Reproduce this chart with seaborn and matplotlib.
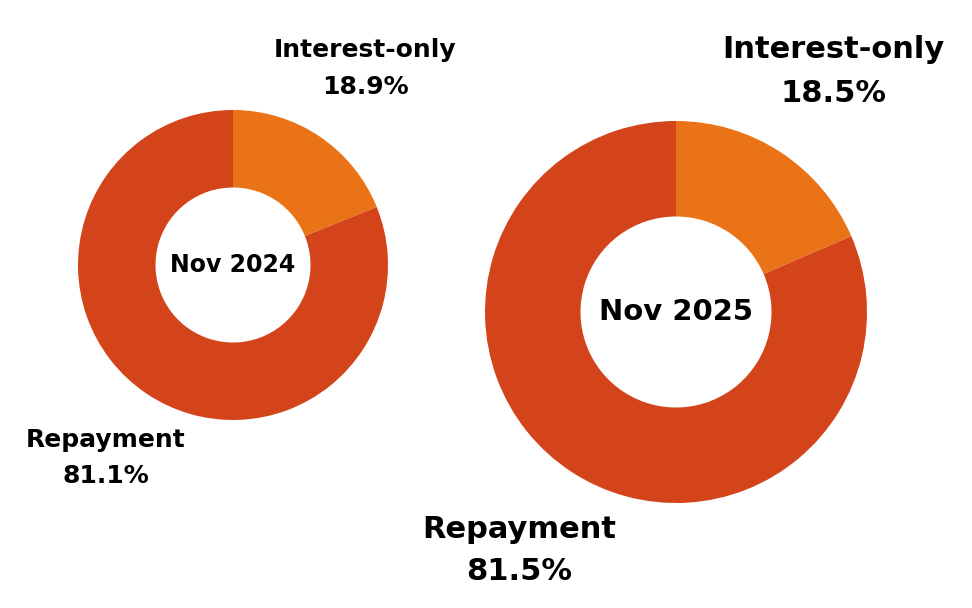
import matplotlib
matplotlib.use("Agg")
import matplotlib.pyplot as plt
import seaborn as sns

# ── Data ─────────────────────────────────────────────────────────────
periods = ["Nov 2024", "Nov 2025"]
categories = ["Interest-only", "Repayment"]
interest_only = [18.9, 18.5]
repayment = [81.1, 81.5]

colors = ["#EA7317", "#D4441B"]

sns.set_theme(style="white")
plt.rcParams["font.family"] = ["DejaVu Sans"]

W, H = 972, 608
fig = plt.figure(figsize=(W / 100, H / 100), dpi=100)
fig.patch.set_facecolor("white")

# donut placement in pixels: (cx, cy, radius), plus label sizes
layout = [
    dict(cx=233, cy=265, r=155, center_fs=17,
         top=(365, 50, 87), bottom=(106, 440, 476), label_fs=18),
    dict(cx=676, cy=312, r=191, center_fs=21,
         top=(833, 50, 93), bottom=(519, 530, 571), label_fs=22),
]


def fx(x):
    return x / W


def fy(y):
    return 1 - y / H


for i, (period, lay) in enumerate(zip(periods, layout)):
    r = lay["r"]
    ax = fig.add_axes([fx(lay["cx"] - r), fy(lay["cy"] + r), 2 * r / W, 2 * r / H])
    vals = [interest_only[i], repayment[i]]
    ax.pie(vals, colors=colors, startangle=90, counterclock=False,
           radius=1, wedgeprops=dict(width=0.5, edgecolor="none"))
    ax.set_xlim(-1, 1)
    ax.set_ylim(-1, 1)
    ax.set_aspect("equal")
    ax.axis("off")
    ax.text(0, 0, period, ha="center", va="center",
            fontsize=lay["center_fs"], fontweight="bold", color="black")

    fs = lay["label_fs"]
    tx, ty1, ty2 = lay["top"]
    fig.text(fx(tx), fy(ty1), categories[0], ha="center", va="center",
             fontsize=fs, fontweight="bold", color="black")
    fig.text(fx(tx), fy(ty2), f"{interest_only[i]:.1f}%", ha="center", va="center",
             fontsize=fs, fontweight="bold", color="black")
    bx, by1, by2 = lay["bottom"]
    fig.text(fx(bx), fy(by1), categories[1], ha="center", va="center",
             fontsize=fs, fontweight="bold", color="black")
    fig.text(fx(bx), fy(by2), f"{repayment[i]:.1f}%", ha="center", va="center",
             fontsize=fs, fontweight="bold", color="black")

fig.savefig("out.png", dpi=100, facecolor="white")
plt.close(fig)
